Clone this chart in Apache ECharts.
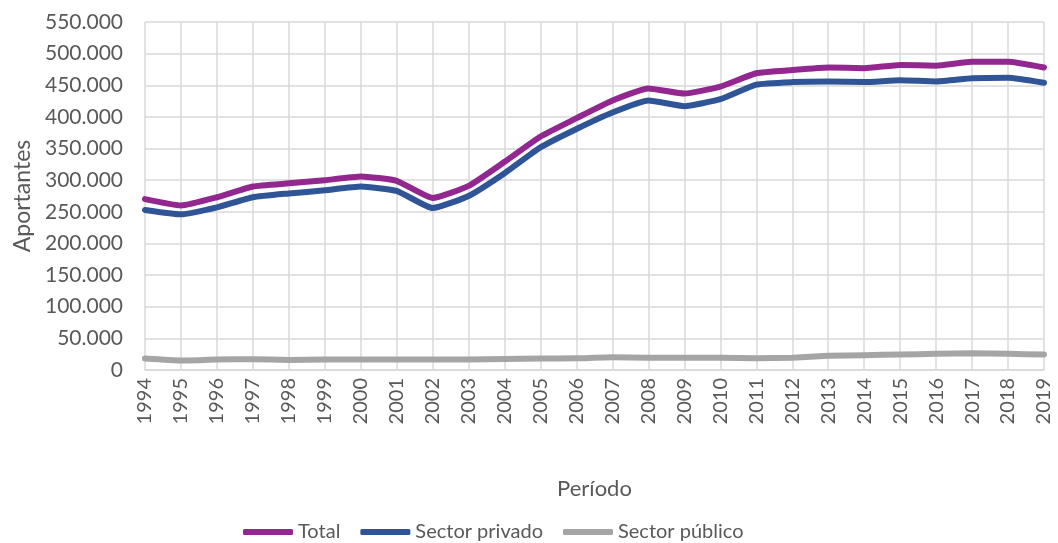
<!DOCTYPE html>
<html>
<head>
<meta charset="utf-8">
<script src="https://cdn.jsdelivr.net/npm/echarts@6/dist/echarts.min.js"></script>
<style>
  html, body { margin: 0; padding: 0; background: #fff; }
  #chart { width: 1058px; height: 543px; }
</style>
</head>
<body>
<div id="chart"></div>
<script>
// categorias (años)
const years = ["1994", "1995", "1996", "1997", "1998", "1999", "2000", "2001", "2002", "2003", "2004", "2005", "2006",
  "2007", "2008", "2009", "2010", "2011", "2012", "2013", "2014", "2015", "2016", "2017", "2018", "2019"];

// aportantes por sector
const total = [270000, 260000, 273000, 290000, 295000, 300000, 306000, 299000, 272000, 291000, 329000, 369000, 398000,
  426000, 445000, 437000, 448000, 469000, 474000, 478000, 477000, 482000, 481000, 487000, 487000, 478000];
const privado = [253000, 246000, 257000, 273000, 279000, 284000, 290000, 283000, 256000, 275000, 311000, 352000, 381000,
  407000, 426000, 417000, 428000, 451000, 455000, 456000, 455000, 458000, 456000, 461000, 462000, 454000];
const publico = [18000, 15000, 16500, 17000, 16000, 16500, 16500, 16500, 16500, 16500, 17500, 18000, 18500,
  20000, 19500, 19500, 19500, 18500, 19500, 22500, 23500, 24500, 25500, 26500, 25500, 24500];

const yTicks = { min: 0, max: 550000, step: 50000 };

const fontFam = "Lato, 'Open Sans', sans-serif";
const textColor = "#595959";
const gridColor = "#d9d9d9";

const fmtMiles = (v) => String(v).replace(/\B(?=(\d{3})+(?!\d))/g, ".");

const chart = echarts.init(document.getElementById("chart"));

const option = {
  backgroundColor: "#fff",
  animation: false,
  grid: { left: 145, right: 14, top: 22, bottom: 173, containLabel: false },
  legend: {
    data: ["Total", "Sector privado", "Sector público"],
    left: 238,
    top: 517,
    icon: "roundRect",
    itemWidth: 50,
    itemHeight: 6,
    itemGap: 20,
    textStyle: { color: textColor, fontSize: 20, fontFamily: fontFam }
  },
  xAxis: {
    type: "category",
    data: years,
    boundaryGap: false,
    name: "Período",
    nameLocation: "middle",
    nameGap: 108,
    nameTextStyle: { color: textColor, fontSize: 22, fontFamily: fontFam },
    axisLine: { show: true, lineStyle: { color: gridColor, width: 1.5 } },
    axisTick: { show: false },
    axisLabel: { rotate: 90, color: textColor, fontSize: 20, fontFamily: fontFam, margin: 8 },
    splitLine: { show: true, lineStyle: { color: gridColor, width: 1.5 } }
  },
  yAxis: {
    type: "value",
    min: yTicks.min,
    max: yTicks.max,
    interval: yTicks.step,
    name: "Aportantes",
    nameLocation: "middle",
    nameGap: 111,
    nameTextStyle: { color: textColor, fontSize: 23, fontFamily: fontFam },
    axisLine: { show: false },
    axisTick: { show: false },
    axisLabel: { color: textColor, fontSize: 21, fontFamily: fontFam, margin: 22, formatter: fmtMiles },
    splitLine: { show: true, lineStyle: { color: gridColor, width: 1.5 } }
  },
  series: [
    {
      name: "Total",
      type: "line",
      data: total,
      showSymbol: false,
      smooth: 0.15,
      color: "#92278f",
      lineStyle: { width: 6, cap: "round", join: "round" }
    },
    {
      name: "Sector privado",
      type: "line",
      data: privado,
      showSymbol: false,
      smooth: 0.15,
      color: "#2f5597",
      lineStyle: { width: 6, cap: "round", join: "round" }
    },
    {
      name: "Sector público",
      type: "line",
      data: publico,
      showSymbol: false,
      smooth: 0.15,
      color: "#a5a5a5",
      lineStyle: { width: 6, cap: "round", join: "round" }
    }
  ]
};

chart.setOption(option);
</script>
</body>
</html>
